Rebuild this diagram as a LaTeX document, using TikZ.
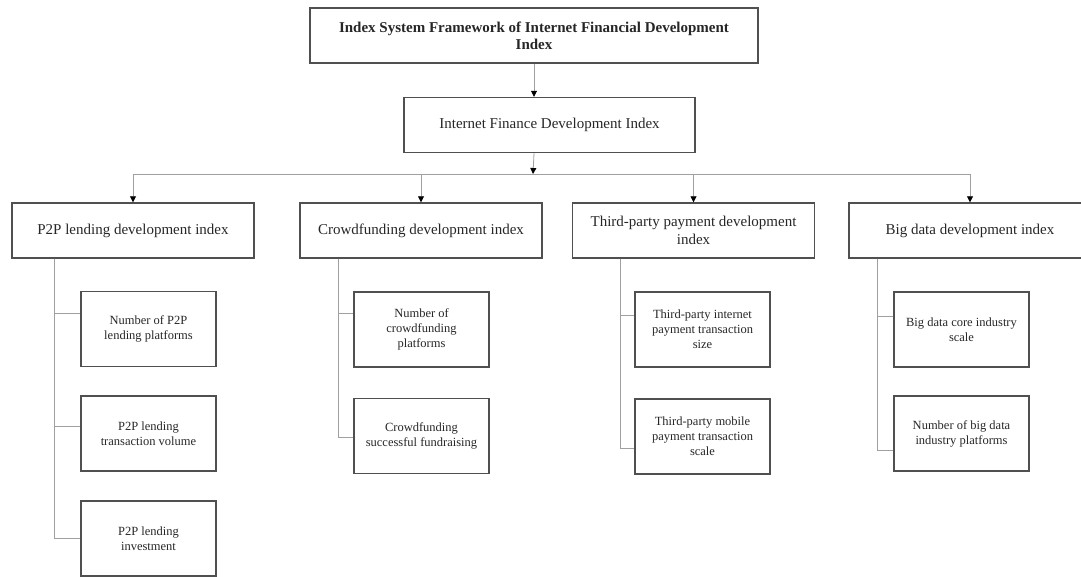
\documentclass[tikz,border=0pt]{standalone}
\usepackage{fontspec}
\setmainfont{Liberation Serif}
\usepackage{tikz}
\usetikzlibrary{arrows.meta}
\definecolor{boxgray}{HTML}{505050}
\definecolor{linegray}{HTML}{A0A0A0}

\begin{document}
\begin{tikzpicture}[x=1pt,y=-1pt]
	\tikzstyle{every node}+=[inner sep=0pt, align=center, text=black!85]
	\tikzstyle{topbox}=[draw=boxgray, line width=1.4pt, minimum width=448pt, minimum height=55pt, font=\fontsize{15}{17}\selectfont\bfseries]
	\tikzstyle{midbox}=[draw=boxgray, line width=1.4pt, minimum height=55pt, font=\fontsize{15}{18}\selectfont]
	\tikzstyle{subbox}=[draw=boxgray, line width=1.4pt, minimum width=135pt, minimum height=75pt, font=\fontsize{12.5}{15}\selectfont]
	\tikzstyle{link}=[linegray, line width=0.8pt]
	\tikzstyle{arr}=[link, -{Triangle[width=6pt,length=6pt,color=black]}]
	\useasboundingbox (0,0) rectangle (1081,577);
	\node [topbox] (frame) at (534,35.5) {Index System Framework of Internet Financial Development\\Index};
	\node [midbox, minimum width=291pt] (ifdi) at (549.5,125) {Internet Finance Development Index};
	\coordinate (bus) at (533,174);
	\node [midbox, minimum width=242pt] (p2p) at (133,230.5) {P2P lending development index};
	\node [midbox, minimum width=242pt] (crowd) at (421,230.5) {Crowdfunding development index};
	\node [midbox, minimum width=242pt] (third) at (693.5,230.5) {Third-party payment development\\index};
	\node [midbox, minimum width=242pt] (bigdata) at (970,230.5) {Big data development index};
	\node [subbox] (p2pa) at (148.5,329) {Number of P2P\\lending platforms};
	\node [subbox] (p2pb) at (148.5,433.5) {P2P lending\\transaction volume};
	\node [subbox] (p2pc) at (148.5,538.5) {P2P lending\\investment};
	\node [subbox] (crowda) at (421.5,329.5) {Number of\\crowdfunding\\platforms};
	\node [subbox] (crowdb) at (421.5,436) {Crowdfunding\\successful fundraising};
	\node [subbox] (thirda) at (702.5,329.5) {Third-party internet\\payment transaction\\size};
	\node [subbox] (thirdb) at (702.5,436.5) {Third-party mobile\\payment transaction\\scale};
	\node [subbox] (biga) at (961.5,329.5) {Big data core industry\\scale};
	\node [subbox] (bigb) at (961.5,433.5) {Number of big data\\industry platforms};
	\draw [arr] (frame.south) -- (frame.south |- ifdi.north);
	\draw [arr] (frame.south |- ifdi.south) -- (bus);
	\draw [link] (p2p.north |- bus) -- (bigdata.north |- bus);
	\draw [arr] (p2p.north |- bus) -- (p2p.north);
	\draw [arr] (crowd.north |- bus) -- (crowd.north);
	\draw [arr] (third.north |- bus) -- (third.north);
	\draw [arr] (bigdata.north |- bus) -- (bigdata.north);
	\draw [link] ([xshift=43pt]p2p.south west) |- ([yshift=16pt]p2pa.west);
	\draw [link] ([xshift=43pt]p2p.south west) |- ([yshift=7.5pt]p2pb.west);
	\draw [link] ([xshift=43pt]p2p.south west) |- (p2pc.west);
	\draw [link] ([xshift=39pt]crowd.south west) |- ([yshift=16.5pt]crowda.west);
	\draw [link] ([xshift=39pt]crowd.south west) |- ([yshift=-1pt]crowdb.west);
	\draw [link] ([xshift=49pt]third.south west) |- ([yshift=14.5pt]thirda.west);
	\draw [link] ([xshift=49pt]third.south west) |- ([yshift=-11.5pt]thirdb.west);
	\draw [link] ([xshift=29pt]bigdata.south west) |- ([yshift=13.5pt]biga.west);
	\draw [link] ([xshift=29pt]bigdata.south west) |- ([yshift=-16.5pt]bigb.west);
\end{tikzpicture}
\end{document}
